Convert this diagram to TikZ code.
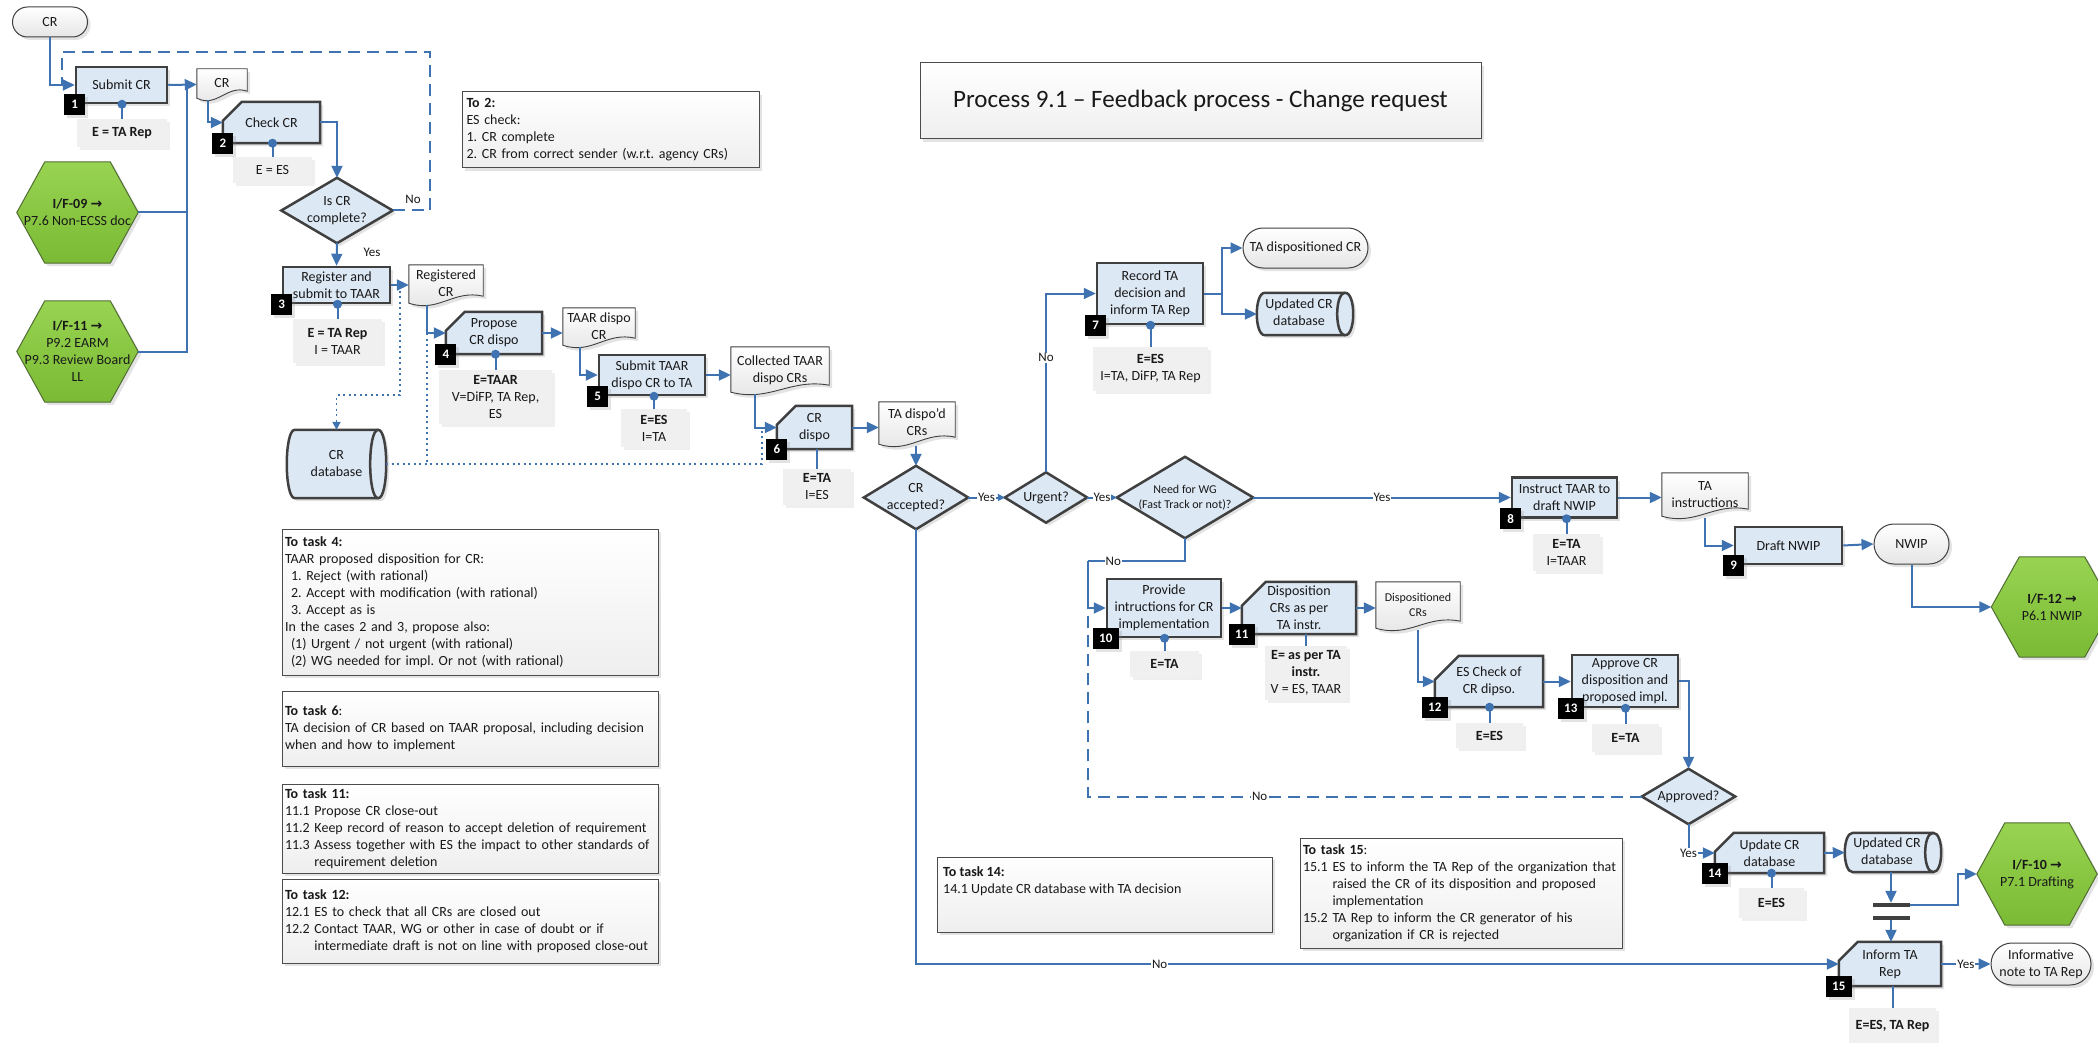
\documentclass[tikz,border=0pt]{standalone}
\usepackage{fontspec}
\setmainfont{Carlito}
\newfontfamily\symf{DejaVu Sans}
\usetikzlibrary{shapes.misc,shadows,arrows.meta,calc}
\pgfdeclarelayer{bg}
\pgfdeclarelayer{shapes}
\pgfsetlayers{bg,shapes,main}
\frenchspacing

\definecolor{boxblue}{RGB}{221,232,245}
\definecolor{edge}{RGB}{64,64,64}
\definecolor{cblue}{RGB}{62,114,176}
\definecolor{egray}{RGB}{240,240,240}
\definecolor{hexga}{RGB}{152,212,82}
\definecolor{hexgb}{RGB}{122,186,52}
\definecolor{hexedge}{RGB}{80,110,50}
\definecolor{txt}{RGB}{25,25,25}

\tikzset{
 base/.style={font=\fontsize{14}{17}\selectfont, text=txt, align=center, inner sep=0pt},
 wh/.style 2 args={minimum width=#1pt, minimum height=#2pt},
 shad/.style={drop shadow={shadow xshift=3pt, shadow yshift=-3pt, opacity=0.22}},
 lshad/.style={drop shadow={shadow xshift=3pt, shadow yshift=-3pt, opacity=0.12}},
 proc/.style={base, rectangle, draw=edge, line width=2.5pt, fill=boxblue, shad},
 ghost/.style={base, rectangle},
 procshape/.style={draw=edge, line width=2.5pt, fill=boxblue, shad, line join=miter},
 docsty/.style={draw=edge, line width=0.9pt, top color=white, bottom color=gray!22, shad},
 hexsty/.style={draw=hexedge, line width=1pt, top color=hexga, bottom color=hexgb, shad},
 term/.style={base, shape=rounded rectangle, draw=edge, line width=1pt, top color=white, bottom color=gray!20, shad},
 ebox/.style={base, rectangle, fill=egray, lshad},
 notebox/.style={base, rectangle, draw=gray!60!black, line width=1pt, top color=white, bottom color=gray!13, shad},
 badge/.style={rectangle, fill=black, text=white, font=\fontsize{13}{15}\selectfont\bfseries, minimum width=21pt, minimum height=21pt, inner sep=2pt, shad},
 badgew/.style={badge, minimum width=26pt},
 bar/.style={rectangle, fill=edge, minimum width=37pt, minimum height=4pt, inner sep=0pt},
 conn/.style={draw=cblue, line width=2pt},
 arr/.style={conn, -{Triangle[length=12pt,width=11pt]}},
 sarr/.style={conn, -{Triangle[length=7pt,width=7pt]}},
 dashconn/.style={conn, dash pattern=on 12pt off 7pt},
 dotconn/.style={draw=cblue, line width=1.8pt, dash pattern=on 2pt off 3.5pt},
 lbl/.style={base, font=\fontsize{13}{15}\selectfont, fill=white, inner sep=1pt},
 plain/.style={base, font=\fontsize{13}{15}\selectfont},
}

\newcommand\cutshape[2][19pt]{\path[procshape] ([yshift=-#1]#2.north west) -- ([xshift=#1]#2.north west) -- (#2.north east) -- (#2.south east) -- (#2.south west) -- cycle;}
\newcommand\docshape[1]{\path[docsty] (#1.north west) -- (#1.north east) -- ([yshift=9pt]#1.south east)
  .. controls ([yshift=16pt]$(#1.south east)!0.4!(#1.south west)$) and ([yshift=-8pt]$(#1.south west)!0.4!(#1.south east)$) .. ([yshift=2pt]#1.south west) -- cycle;}
\newcommand\cylshape[1]{%
 \path[procshape] ([xshift=8pt]#1.north west) -- ([xshift=-8pt]#1.north east)
   .. controls ([xshift=2.7pt]#1.north east) and ([xshift=2.7pt]#1.south east) .. ([xshift=-8pt]#1.south east)
   -- ([xshift=8pt]#1.south west)
   .. controls ([xshift=-2.7pt]#1.south west) and ([xshift=-2.7pt]#1.north west) .. ([xshift=8pt]#1.north west) -- cycle;
 \draw[draw=edge, line width=2.5pt] ([xshift=-8pt]#1.north east) .. controls ([xshift=-18.7pt]#1.north east) and ([xshift=-18.7pt]#1.south east) .. ([xshift=-8pt]#1.south east);}
\newcommand\hexshape[1]{\path[hexsty] (#1.west) -- ([xshift=28pt]#1.north west) -- ([xshift=-28pt]#1.north east) -- (#1.east) -- ([xshift=-28pt]#1.south east) -- ([xshift=28pt]#1.south west) -- cycle;}
\newcommand\diashape[1]{\path[procshape] (#1.north) -- (#1.east) -- (#1.south) -- (#1.west) -- cycle;}
\newcommand\docup[1]{\raisebox{5pt}{\begin{tabular}{@{}c@{}}#1\end{tabular}}}
\newcommand\cylleft[1]{\begin{tabular}{@{}c@{\hspace{12pt}}}#1\end{tabular}}

\begin{document}
\begin{tikzpicture}[x=1pt,y=-1pt]
\useasboundingbox (0,0) rectangle (2098,1043);
\begin{pgfonlayer}{bg}
\fill[white] (0,0) rectangle (2098,1043);
\end{pgfonlayer}

% ---------- title and notes
\node[notebox, wh={561}{76}, font=\fontsize{25}{30}\selectfont] (title) at (1200.5,101) {Process 9.1 – Feedback process - Change request};
\node[notebox, wh={297}{76}, align=left, text width=288pt] (nt2) at (610.5,130) {\textbf{To 2:}\\ES check:\\1. CR complete\\2. CR from correct sender (w.r.t. agency CRs)};
\node[notebox, wh={376}{146}, align=left, text width=370pt] (nt4) at (470,602) {\textbf{To task 4:}\\TAAR proposed disposition for CR:\\\hspace*{6pt}1. Reject (with rational)\\\hspace*{6pt}2. Accept with modification (with rational)\\\hspace*{6pt}3. Accept as is\\In the cases 2 and 3, propose also:\\\hspace*{6pt}(1) Urgent / not urgent (with rational)\\\hspace*{6pt}(2) WG needed for impl. Or not (with rational)};
\node[notebox, wh={376}{75}, align=left, text width=370pt] (nt6) at (470,728.5) {\textbf{To task 6}:\\TA decision of CR based on TAAR proposal, including decision\\when and how to implement};
\node[notebox, wh={376}{89}, align=left, text width=370pt] (nt11) at (470,828.5) {\textbf{To task 11:}\\11.1 Propose CR close-out\\11.2 Keep record of reason to accept deletion of requirement\\11.3 Assess together with ES the impact to other standards of\\\phantom{11.3 }requirement deletion};
\node[notebox, wh={376}{84}, align=left, text width=370pt] (nt12) at (470,921) {\textbf{To task 12:}\\12.1 ES to check that all CRs are closed out\\12.2 Contact TAAR, WG or other in case of doubt or if\\\phantom{12.2 }intermediate draft is not on line with proposed close-out};
\node[notebox, wh={335}{75}] (nt14) at (1104.5,894.5) {};
\node[base, align=left, anchor=north west] (nt14t) at (943,866) {\textbf{To task 14:}\\14.1 Update CR database with TA decision};
\node[notebox, wh={322}{110}, align=left, text width=316pt] (nt15) at (1461,893) {\textbf{To task 15}:\\15.1 ES to inform the TA Rep of the organization that\\\phantom{15.1 }raised the CR of its disposition and proposed\\\phantom{15.1 }implementation\\15.2 TA Rep to inform the CR generator of his\\\phantom{15.2 }organization if CR is rejected};

% ---------- terminators
\node[term, wh={75}{30}] (start) at (50,22) {CR};
\node[term, wh={125}{40}] (tadisp) at (1305.5,248) {TA dispositioned CR};
\node[term, wh={75}{40}] (nwip) at (1911.5,544) {NWIP};
\node[term, wh={100}{42}] (infnote) at (2041,964) {Informative\\note to TA Rep};

% ---------- process boxes
\node[proc, wh={91}{36}] (p1) at (121.5,85) {Submit CR};
\node[ghost, wh={97}{41}] (p2) at (271.5,122.5) {Check CR};
\node[proc, wh={107}{36}] (p3) at (336.5,285) {Register and\\submit to TAAR};
\node[ghost, wh={96}{42}] (p4) at (494,333) {Propose\\CR dispo};
\node[proc, wh={106}{40}] (p5) at (652,375) {Submit TAAR\\dispo CR to TA};
\node[ghost, wh={75}{43}] (p6) at (814.5,427.5) {CR\\dispo};
\node[proc, wh={106}{61}] (p7) at (1150,293.5) {Record TA\\decision and\\inform TA Rep};
\node[proc, wh={105}{40}] (p8) at (1564.5,497.5) {Instruct TAAR to\\draft NWIP};
\node[proc, wh={107}{37}] (p9) at (1788.5,545.5) {Draft NWIP};
\node[proc, wh={114}{58}] (p10) at (1164,608) {Provide\\intructions for CR\\implementation};
\node[ghost, wh={114}{52}] (p11) at (1299,608) {Disposition\\CRs as per\\TA instr.};
\node[ghost, wh={108}{51}] (p12) at (1489,681.5) {ES Check of\\CR dipso.};
\node[proc, wh={106}{52}] (p13) at (1625,681) {Approve CR\\disposition and\\proposed impl.};
\node[ghost, wh={109}{40}] (p14) at (1769.5,853) {Update CR\\database};
\node[ghost, wh={102}{44}] (p15) at (1890,964) {Inform TA\\Rep};

% ---------- documents
\node[ghost, wh={50}{31}] (d1) at (222,84.5) {\docup{CR}};
\node[ghost, wh={74}{40}] (d2) at (446,285) {\docup{Registered\\CR}};
\node[ghost, wh={72}{39}] (d3) at (599,327.5) {\docup{TAAR dispo\\CR}};
\node[ghost, wh={98}{47}] (d4) at (780,370.5) {\docup{Collected TAAR\\dispo CRs}};
\node[ghost, wh={76}{44}] (d5) at (917,424) {\docup{TA dispo’d\\CRs}};
\node[ghost, wh={86}{45}] (d6) at (1705,495.5) {\docup{TA\\instructions}};
\node[ghost, wh={84}{48}, font=\fontsize{12}{15}\selectfont] (d7) at (1418,606) {\docup{Dispositioned\\CRs}};

% ---------- databases
\node[ghost, wh={99}{68}] (db1) at (336.5,464) {CR\\database};
\node[ghost, wh={96}{42}] (db2) at (1305,314) {\cylleft{Updated CR\\database}};
\node[ghost, wh={96}{39}] (db3) at (1893,852.5) {\cylleft{Updated CR\\database}};

% ---------- interfaces
\node[ghost, wh={121}{101}] (h9) at (77.5,212.5) {\textbf{I/F-09 {\symf →}}\\P7.6 Non-ECSS doc};
\node[ghost, wh={121}{101}] (h11) at (77.5,351.5) {\textbf{I/F-11 {\symf →}}\\P9.2 EARM\\P9.3 Review Board\\LL};
\node[ghost, wh={120}{102}] (h10) at (2037,874) {\textbf{I/F-10 {\symf →}}\\P7.1 Drafting};
\node[ghost, wh={121}{100}] (h12) at (2052,607) {\textbf{I/F-12 {\symf →}}\\P6.1 NWIP};

% ---------- decisions
\node[ghost, wh={111}{65}] (q1) at (337,210.5) {Is CR\\complete?};
\node[ghost, wh={104}{63}] (q2) at (916,497.5) {CR\\accepted?};
\node[ghost, wh={82}{50}] (q3) at (1046,497.5) {Urgent?};
\node[ghost, wh={136}{81}, font=\fontsize{12}{15}\selectfont] (q4) at (1185,497.5) {Need for WG\\(Fast Track or not)?};
\node[ghost, wh={93}{55}] (q5) at (1688.5,796.5) {Approved?};

% ---------- sync bars
\node[bar] (bar1) at (1891,905) {};
\node[bar] (bar2) at (1891,918) {};

% ---------- actor boxes
\node[ebox, wh={90}{28}] (e1) at (122,133) {\textbf{E = TA Rep}};
\node[ebox, wh={79}{26}] (e2) at (272.5,170) {E = ES};
\node[ebox, wh={89}{44}] (e3) at (337.5,341) {\textbf{E = TA Rep}\\I = TAAR};
\node[ebox, wh={113}{54}] (e4) at (495.5,397) {\textbf{E=TAAR}\\V=DiFP, TA Rep,\\ES};
\node[ebox, wh={66}{38}] (e5) at (654,428) {\textbf{E=ES}\\I=TA};
\node[ebox, wh={68}{36}] (e6) at (817,487) {\textbf{E=TA}\\I=ES};
\node[ebox, wh={115}{44}] (e7) at (1150.5,369) {\textbf{E=ES}\\I=TA, DiFP, TA Rep};
\node[ebox, wh={67}{37}] (e8) at (1566.5,552.5) {\textbf{E=TA}\\I=TAAR};
\node[ebox, wh={69}{26}] (e10) at (1164.5,664) {\textbf{E=TA}};
\node[ebox, wh={82}{54}] (e11) at (1306,673) {\textbf{E= as per TA}\\\textbf{instr.}\\V = ES, TAAR};
\node[ebox, wh={67}{25}] (e12) at (1489.5,735.5) {\textbf{E=ES}};
\node[ebox, wh={67}{28}] (e13) at (1625.5,738) {\textbf{E=TA}};
\node[ebox, wh={65}{30}] (e14) at (1771.5,903) {\textbf{E=ES}};
\node[ebox, wh={87}{35}] (e15) at (1892.5,1025.5) {\textbf{E=ES, TA Rep}};

% ---------- shapes drawn behind the text
\begin{pgfonlayer}{shapes}
\foreach \n/\c in {p2/19pt,p4/19pt,p6/19pt,p11/24pt,p12/24pt,p14/19pt,p15/19pt} {\cutshape[\c]{\n}}
\foreach \n in {d1,d2,d3,d4,d5,d6,d7} {\docshape{\n}}
\foreach \n in {db1,db2,db3} {\cylshape{\n}}
\foreach \n in {h9,h11,h10,h12} {\hexshape{\n}}
\foreach \n in {q1,q2,q3,q4,q5} {\diashape{\n}}
\end{pgfonlayer}

% ---------- connectors
\coordinate (lpA) at (430,52);
\coordinate (lpB) at (62,52);
\coordinate (lpC) at (62,85);
\coordinate (jh) at (187,85);
\coordinate (j7) at (1222,293.5);
\coordinate (j10) at (1088,561);
\coordinate (j36) at (1958,905);
\coordinate (dt1) at (400,285);
\coordinate (dt2) at (400,395);
\coordinate (dA) at (427,333);
\coordinate (dB) at (762,427.5);

\draw[dotconn, -{Triangle[length=8pt,width=8pt]}] (dt1) -- (dt2) -| (db1.north);
\draw[dotconn] (dA) -- (dA |- db1.east);
\draw[dotconn] (db1.east) -- (db1.east -| dB) -- (dB);

\draw[arr] (start.south) |- (p1.west);
\draw[dashconn] (q1.east) -| (lpA) -- (lpB) -- (lpC);
\node[plain] (lno1) at (413,199) {No};
\draw[arr] (p1.east) -- (d1.west);
\draw[conn] (h11.east) -| (jh);
\draw[conn] (h9.east) -- (h9.east -| jh);
\draw[arr] ([xshift=11pt]d1.south west) |- (p2.west);
\draw[arr] (p2.east) -| (q1.north);
\draw[arr] (q1.south) -- (p3.north);
\node[plain] (lyes1) at (372,252) {Yes};
\draw[arr] (p3.east) -- (d2.west);
\draw[arr] ([xshift=18pt]d2.south west) |- (p4.west);
\draw[arr] (p4.east) -- (p4.east -| d3.west);
\draw[arr] ([xshift=17pt]d3.south west) |- (p5.west);
\draw[arr] (p5.east) -- (p5.east -| d4.west);
\draw[arr] ([xshift=24pt]d4.south west) |- (p6.west);
\draw[arr] (p6.east) -- (p6.east -| d5.west);
\draw[arr] (d5.south -| q2.north) -- (q2.north);
\draw[sarr] (q2.east) -- node[lbl] (ly2) {Yes} (q3.west);
\draw[sarr] (q3.east) -- node[lbl] (ly3) {Yes} (q4.west);
\draw[arr] (q3.north) |- node[lbl, pos=0.32] (ln3) {No} (p7.west);
\draw[conn] (p7.east) -- (j7);
\draw[arr] (j7) |- (tadisp.west);
\draw[arr] (j7) |- (db2.west);
\draw[arr] (q4.east) -- node[lbl] (ly4) {Yes} (p8.west);
\draw[arr] (p8.east) -- (p8.east -| d6.west);
\draw[arr] (d6.south) |- (p9.west);
\draw[arr] (p9.east) -- (nwip.west);
\draw[arr] (nwip.south) |- (h12.west);
\draw[conn] (q4.south) |- node[lbl, pos=0.87] (ln4) {No} (j10);
\draw[arr] (j10) |- (p10.west);
\draw[arr] (p10.east) -- (p11.west);
\draw[arr] (p11.east) -- (p11.east -| d7.west);
\draw[arr] (d7.south) |- (p12.west);
\draw[arr] (p12.east) -- (p12.east -| p13.west);
\draw[arr] (p13.east) -| (q5.north);
\draw[dashconn] (q5.west) -| node[lbl, pos=0.345] (ln5) {No} (j10 |- p10.west);
\draw[arr] (q5.south) |- node[lbl, pos=0.5] (ly5) {Yes} (p14.west);
\draw[arr] (p14.east) -- (db3.west);
\draw[arr] (bar1.north |- db3.south) -- (bar1.north);
\draw[arr] (bar2.south) -- (bar2.south |- p15.north);
\draw[arr] (bar1.east) -- (j36) |- (h10.west);
\draw[arr] (q2.south) |- node[lbl, pos=0.632] (ln2) {No} (p15.west);
\draw[arr] (p15.east) -- node[lbl] (ly6) {Yes} (infnote.west);

% ---------- actor links
\foreach \pn/\en in {p1/e1,p2/e2,p3/e3,p4/e4,p5/e5,p7/e7,p8/e8,p10/e10,p12/e12,p13/e13,p14/e14} {
  \draw[conn] (\en.north) -- (\en.north |- \pn.south);
  \fill[cblue] (\en.north |- \pn.south) circle (4.5pt);
}
\foreach \pn/\en in {p6/e6,p11/e11,p15/e15} {
  \draw[conn] (\en.north) -- (\en.north |- \pn.south);
}

% ---------- badges
\node[badge] (b1) at (p1.south west) {1};
\node[badge] (b2) at (p2.south west) {2};
\node[badge] (b3) at (p3.south west) {3};
\node[badge] (b4) at (p4.south west) {4};
\node[badge] (b5) at (p5.south west) {5};
\node[badge] (b6) at (p6.south west) {6};
\node[badge] (b7) at (p7.south west) {7};
\node[badge] (b8) at (p8.south west) {8};
\node[badge] (b9) at (p9.south west) {9};
\node[badgew] (b10) at (p10.south west) {10};
\node[badgew] (b11) at (p11.south west) {11};
\node[badgew] (b12) at (p12.south west) {12};
\node[badgew] (b13) at (p13.south west) {13};
\node[badgew] (b14) at (p14.south west) {14};
\node[badgew] (b15) at (p15.south west) {15};
\end{tikzpicture}
\end{document}
